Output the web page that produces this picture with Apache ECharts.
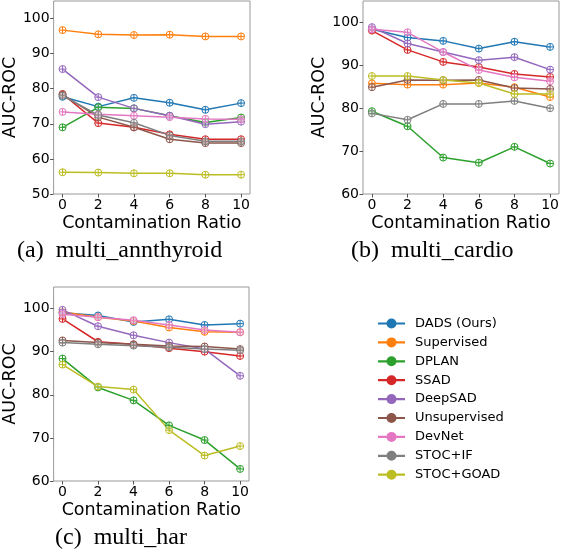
<!DOCTYPE html>
<html>
<head>
<meta charset="utf-8">
<script src="https://cdn.jsdelivr.net/npm/echarts@6/dist/echarts.min.js"></script>
<style>
html, body { margin: 0; padding: 0; background: #fff; }
#chart1 { width: 562px; height: 554px; }
</style>
</head>
<body>
<div id="chart1"></div>
<script>
var ratios = [0, 2, 4, 6, 8, 10];
var methods = ['DADS (Ours)', 'Supervised', 'DPLAN', 'SSAD', 'DeepSAD', 'Unsupervised', 'DevNet', 'STOC+IF', 'STOC+GOAD'];
var colors = ['#1f77b4', '#ff7f0e', '#2ca02c', '#d62728', '#9467bd', '#8c564b', '#e377c2', '#7f7f7f', '#bcbd22'];

// one row per method, same order as methods
var annthyroidAuc = [
    [77.7, 74.9, 77.4, 76.0, 74.0, 75.9],
    [96.7, 95.5, 95.3, 95.4, 94.9, 94.9],
    [69.0, 74.7, 74.4, 72.3, 70.4, 71.8],
    [78.5, 70.2, 69.0, 67.0, 65.6, 65.6],
    [85.6, 77.6, 74.4, 72.3, 69.9, 70.6],
    [78.3, 71.9, 69.0, 65.6, 64.5, 64.5],
    [73.4, 72.7, 72.3, 71.9, 71.4, 71.3],
    [78.0, 72.5, 70.3, 66.7, 65.0, 65.0],
    [56.2, 56.1, 55.9, 55.9, 55.5, 55.5]
];
var cardioAuc = [
    [98.4, 96.5, 95.7, 93.9, 95.5, 94.3],
    [85.8, 85.5, 85.5, 85.9, 84.9, 82.6],
    [79.3, 75.8, 68.5, 67.3, 71.0, 67.1],
    [98.1, 93.6, 90.8, 89.6, 88.0, 87.3],
    [98.9, 95.1, 93.1, 91.2, 91.9, 89.0],
    [84.9, 86.6, 86.5, 86.6, 84.7, 84.5],
    [98.4, 97.7, 93.1, 88.9, 87.2, 86.3],
    [78.8, 77.3, 81.0, 81.0, 81.7, 80.0],
    [87.5, 87.5, 86.6, 85.9, 83.3, 83.3]
];
var harAuc = [
    [99.0, 98.4, 96.9, 97.5, 96.2, 96.5],
    [99.2, 98.0, 97.1, 95.6, 94.6, 94.5],
    [88.4, 81.7, 78.7, 72.9, 69.5, 62.8],
    [97.6, 92.3, 91.7, 90.8, 90.0, 89.0],
    [99.7, 95.9, 93.8, 92.1, 90.6, 84.4],
    [92.6, 92.1, 91.7, 91.3, 91.2, 90.6],
    [98.7, 98.0, 97.3, 96.2, 95.0, 94.5],
    [92.1, 91.7, 91.4, 91.0, 90.6, 90.3],
    [87.0, 81.9, 81.2, 71.8, 65.9, 68.1]
];
var yTicksA = [50, 60, 70, 80, 90, 100];
var yTicksB = [60, 70, 80, 90, 100];
var yTicksC = [60, 70, 80, 90, 100];

var marker = 'path://M0,-10A10,10 0 1 1 0,10A10,10 0 1 1 0,-10ZM0,-10V10M-10,0H10';
var sans = 'DejaVu Sans';

var myChart1 = echarts.init(document.getElementById('chart1'), null, { renderer: 'canvas' });

function makeX(idx) {
    return {
        type: 'value', gridIndex: idx, min: -0.5, max: 10.5,
        splitLine: { show: false },
        axisLine: { show: false, onZero: false },
        axisTick: { show: true, length: 3.5, lineStyle: { color: '#555' }, customValues: ratios },
        axisLabel: { fontFamily: sans, fontSize: 14, color: '#000', margin: 4, customValues: ratios },
        name: 'Contamination Ratio', nameLocation: 'middle', nameGap: 20,
        nameTextStyle: { fontFamily: sans, fontSize: 17.5, color: '#000' }
    };
}

function makeY(idx, lo, ticks) {
    return {
        type: 'value', gridIndex: idx, min: lo, max: 105,
        splitLine: { show: false },
        axisLine: { show: false, onZero: false },
        axisTick: { show: true, length: 3.5, lineStyle: { color: '#555' }, customValues: ticks },
        axisLabel: { fontFamily: sans, fontSize: 14, color: '#000', margin: 4, customValues: ticks },
        name: 'AUC-ROC', nameLocation: 'middle', nameRotate: 90, nameGap: 33,
        nameTextStyle: { fontFamily: sans, fontSize: 17.5, color: '#000' }
    };
}

function makeSeries(idx, table) {
    return methods.map(function (m, i) {
        return {
            type: 'line', name: m, xAxisIndex: idx, yAxisIndex: idx,
            data: ratios.map(function (r, j) { return [r, table[i][j]]; }),
            symbol: marker, symbolSize: 7,
            lineStyle: { color: colors[i], width: 1.5 },
            itemStyle: { color: 'rgba(255,255,255,0.4)', borderColor: colors[i], borderWidth: 1 },
            animation: false
        };
    });
}

var gridStyle = { show: true, borderColor: '#999', borderWidth: 1, backgroundColor: 'transparent' };

myChart1.setOption({
    backgroundColor: '#fff',
    grid: [
        Object.assign({ left: 51, top: 1, width: 199, height: 193 }, gridStyle),
        Object.assign({ left: 363, top: 1, width: 198, height: 193 }, gridStyle),
        Object.assign({ left: 50, top: 287, width: 199, height: 194 }, gridStyle)
    ],
    xAxis: [makeX(0), makeX(1), makeX(2)],
    yAxis: [makeY(0, 50, yTicksA), makeY(1, 60, yTicksB), makeY(2, 60, yTicksC)],
    legend: {
        orient: 'vertical', left: 378, top: 317, padding: 0,
        itemWidth: 27, itemHeight: 10, itemGap: 5.9,
        icon: 'path://M0,3.9H27V6.1H0ZM13.5,0A5,5 0 1 1 13.49,0Z',
        textStyle: { fontFamily: sans, fontSize: 13, color: '#000', padding: [0, 0, 0, 5] },
        data: methods.map(function (m, i) {
            return { name: m, itemStyle: { color: colors[i], borderWidth: 0 } };
        })
    },
    graphic: [
        { type: 'text', left: 17, top: 239, style: { text: '(a)\u2002multi_annthyroid', font: '24px "Liberation Serif"', fill: '#000' } },
        { type: 'text', left: 351, top: 239, style: { text: '(b)\u2002multi_cardio', font: '24px "Liberation Serif"', fill: '#000' } },
        { type: 'text', left: 55, top: 526, style: { text: '(c)\u2002multi_har', font: '24px "Liberation Serif"', fill: '#000' } }
    ],
    series: [].concat(makeSeries(0, annthyroidAuc), makeSeries(1, cardioAuc), makeSeries(2, harAuc))
});

window.onresize = function () {
    myChart1.resize();
}
</script>
</body>
</html>
